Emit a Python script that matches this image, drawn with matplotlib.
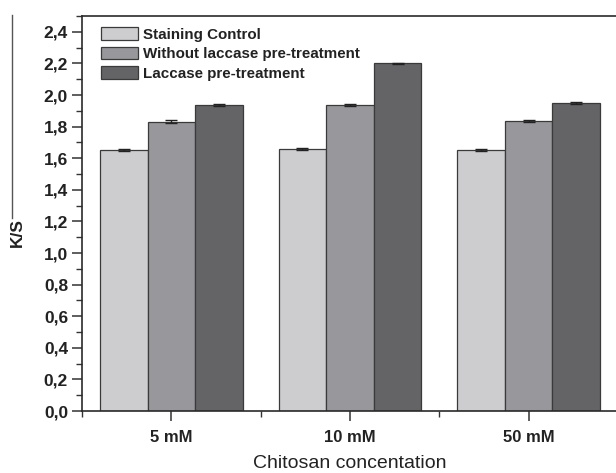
import numpy as np
import matplotlib
matplotlib.use('Agg')
import matplotlib.pyplot as plt
from matplotlib.ticker import FuncFormatter, MultipleLocator, FixedLocator
from matplotlib.lines import Line2D

plt.rcParams['font.family'] = ['Liberation Sans', 'DejaVu Sans']

# Data
groups = ['5 mM', '10 mM', '50 mM']
series = ['Staining Control', 'Without laccase pre-treatment', 'Laccase pre-treatment']
control = [1.650, 1.660, 1.650]
without_laccase = [1.830, 1.935, 1.835]
with_laccase = [1.937, 2.200, 1.948]
control_err = [0.006, 0.005, 0.006]
without_err = [0.010, 0.006, 0.005]
with_err = [0.006, 0.004, 0.006]

colors = ['#cdcdd0', '#98989c', '#646466']

fig = plt.figure(figsize=(6.16, 4.73), dpi=100)
ax = fig.add_axes([82 / 616, 62 / 473, 536 / 616, 395 / 473])

x = np.arange(1, len(groups) + 1)
w = 0.8 / 3
values = [control, without_laccase, with_laccase]
errors = [control_err, without_err, with_err]
for i, (vals, errs) in enumerate(zip(values, errors)):
    ax.bar(x + (i - 1) * w, vals, w, yerr=errs, color=colors[i],
           edgecolor='#3a3a3a', linewidth=0.9, label=series[i],
           error_kw=dict(ecolor='#222222', elinewidth=1.0, capsize=4, capthick=1.0))

ax.set_xlim(0.5, 3.5)
ax.set_ylim(0, 2.5)
ax.set_xticks(x)
ax.set_xticklabels(groups, fontsize=12, fontweight='bold', color='#222222')
ax.xaxis.set_minor_locator(FixedLocator([0.5, 1.5, 2.5, 3.5]))
ax.yaxis.set_major_locator(MultipleLocator(0.2))
ax.yaxis.set_minor_locator(MultipleLocator(0.1))
ax.yaxis.set_major_formatter(FuncFormatter(lambda v, p: f'{v:.1f}'.replace('.', ',')))
for lab in ax.get_yticklabels():
    lab.set_fontsize(12.5)
    lab.set_fontweight('bold')
    lab.set_color('#222222')

ax.tick_params(axis='both', which='major', direction='out', length=7, width=1.1, color='#333333', pad=3)
ax.tick_params(axis='both', which='minor', direction='out', length=4, width=1.0, color='#333333')
ax.tick_params(axis='x', which='major', pad=7)

for s in ax.spines.values():
    s.set_linewidth(1.2)
    s.set_color('#2a2a2a')

ax.set_xlabel('Chitosan concentation', fontsize=14, color='#222222', labelpad=7)
ax.set_ylabel('K/S', fontsize=12.5, fontweight='bold', color='#222222')
ax.yaxis.set_label_coords(-0.106, 0.453)

leg = ax.legend(loc='upper left', bbox_to_anchor=(0.015, 1.0), frameon=False,
                prop=dict(size=10.9, weight='bold'), handlelength=2.4, handleheight=0.9,
                handletextpad=0.35, labelspacing=0.32, borderaxespad=0.35)
for t in leg.get_texts():
    t.set_color('#222222')

# stray vertical rule at the left edge of the figure
fig.add_artist(Line2D([12 / 616, 12 / 616], [1 - 15 / 473, 1 - 218 / 473],
                      transform=fig.transFigure, color='#555555', linewidth=1.0))

fig.savefig('out.png', dpi=100)
